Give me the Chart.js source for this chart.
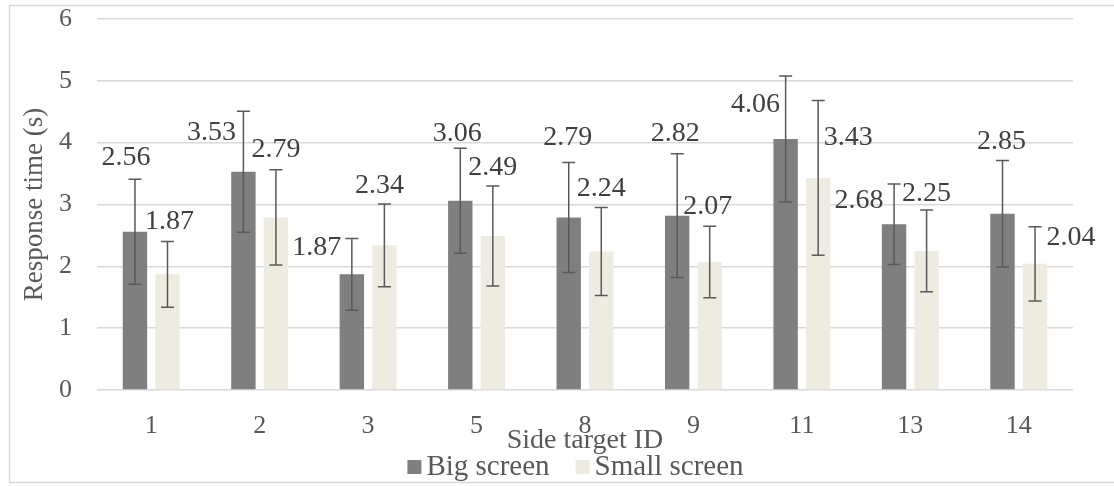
<!DOCTYPE html>
<html><head><meta charset="utf-8">
<script src="https://cdn.jsdelivr.net/npm/chart.js@4.4.0/dist/chart.umd.min.js"></script>
<style>html,body{margin:0;padding:0;background:#fff;overflow:hidden;}</style>
</head><body>
<canvas id="c" width="1114" height="486"></canvas>
<script>
// ---- data ----
const categories = ['1','2','3','5','8','9','11','13','14'];
const bigScreen = [2.56,3.53,1.87,3.06,2.79,2.82,4.06,2.68,2.85];
const smallScreen = [1.87,2.79,2.34,2.49,2.24,2.07,3.43,2.25,2.04];
const bigError = [0.85,0.98,0.58,0.85,0.89,1.00,1.02,0.65,0.86];
const smallError = [0.53,0.77,0.67,0.81,0.71,0.58,1.25,0.66,0.60];
const yTicks = [0,1,2,3,4,5,6];

// ---- label placement (layout, px relative to error-bar top) ----
const bigLabelDx = [-9,-32,-35,-3,-1,-2,-30,-35,-1];
const bigLabelDy = [-22,22,9,-15,-25,-20,29,17,-19];
const smallLabelDx = [2,0,-5,0,0,-2,30,0,36];
const smallLabelDy = [-20,-20,-18,-18,-19,-20,37,-16,11];

const SERIF = '"Liberation Serif", "Times New Roman", serif';

const borderPlugin = {
  id:'border',
  beforeDraw(chart){
    const ctx = chart.ctx;
    ctx.save();
    ctx.fillStyle='#fff'; ctx.fillRect(0,0,chart.width,chart.height);
    ctx.strokeStyle='#d9d9d9'; ctx.lineWidth=1.5;
    ctx.strokeRect(9.5,5.5,1120,477);
    ctx.restore();
  }
};

const errorPlugin = {
  id:'errbars',
  afterDatasetsDraw(chart){
    const ctx = chart.ctx, y = chart.scales.y;
    chart.data.datasets.forEach((ds,di)=>{
      const meta = chart.getDatasetMeta(di);
      meta.data.forEach((bar,i)=>{
        const v = ds.data[i], e = ds.errors[i];
        const yt = y.getPixelForValue(v+e), yb = y.getPixelForValue(v-e);
        ctx.save();
        ctx.strokeStyle='#595959'; ctx.lineWidth=1.5;
        ctx.beginPath();
        ctx.moveTo(bar.x,yt); ctx.lineTo(bar.x,yb);
        ctx.moveTo(bar.x-6.5,yt); ctx.lineTo(bar.x+6.5,yt);
        ctx.moveTo(bar.x-6.5,yb); ctx.lineTo(bar.x+6.5,yb);
        ctx.stroke();
        ctx.fillStyle='#404040';
        ctx.font='28px '+SERIF;
        ctx.textAlign='center'; ctx.textBaseline='middle';
        ctx.fillText(v.toFixed(2), bar.x+ds.labelDx[i], yt+ds.labelDy[i]);
        ctx.restore();
      });
    });
  }
};

const legendPlugin = {
  id:'customLegend',
  afterDraw(chart){
    const ctx = chart.ctx;
    ctx.save();
    ctx.font='29px '+SERIF;
    const items = chart.data.datasets.map(d=>({t:d.label,c:d.backgroundColor}));
    const box=14, gap=5, space=26;
    let total=0;
    items.forEach((it,i)=>{ total += box+gap+ctx.measureText(it.t).width + (i<items.length-1?space:0); });
    let x = 575.5 - total/2;
    const yc = 467;
    ctx.textBaseline='middle'; ctx.textAlign='left';
    items.forEach(it=>{
      ctx.fillStyle=it.c; ctx.fillRect(x, yc-7, box, box);
      x += box+gap;
      ctx.fillStyle='#595959'; ctx.fillText(it.t, x, yc);
      x += ctx.measureText(it.t).width + space;
    });
    ctx.restore();
  }
};

new Chart(document.getElementById('c'), {
  type:'bar',
  data:{
    labels: categories,
    datasets:[
      {label:'Big screen', data:bigScreen, errors:bigError, labelDx:bigLabelDx, labelDy:bigLabelDy,
       backgroundColor:'#7f7f7f', categoryPercentage:0.6, barPercentage:0.75},
      {label:'Small screen', data:smallScreen, errors:smallError, labelDx:smallLabelDx, labelDy:smallLabelDy,
       backgroundColor:'#eeece1', categoryPercentage:0.6, barPercentage:0.75}
    ]
  },
  options:{
    responsive:false, animation:false, devicePixelRatio:1,
    layout:{padding:{left:0,right:41,top:19,bottom:29}},
    plugins:{legend:{display:false}, tooltip:{enabled:false}},
    scales:{
      x:{
        grid:{display:false, drawTicks:false}, border:{display:false},
        ticks:{color:'#595959', font:{family:SERIF,size:26}, padding:21, maxRotation:0, autoSkip:false},
        title:{display:true, text:'Side target ID', color:'#595959', font:{family:SERIF,size:28}, padding:0},
        afterFit(s){ s.height=67; s.paddingLeft=0; s.paddingRight=0; }
      },
      y:{
        min:yTicks[0], max:yTicks[yTicks.length-1],
        afterBuildTicks(s){ s.ticks = yTicks.map(v=>({value:v})); },
        grid:{color:'#d9d9d9', lineWidth:1.5, drawTicks:false}, border:{display:false},
        ticks:{color:'#595959', font:{family:SERIF,size:26}, padding:25},
        title:{display:true, text:'Response time (s)', color:'#595959', font:{family:SERIF,size:27}, padding:{top:19,bottom:0}},
        afterFit(s){ s.width=97; s.paddingTop=0; s.paddingBottom=0; }
      }
    }
  },
  plugins:[borderPlugin, errorPlugin, legendPlugin]
});
</script>
</body></html>
